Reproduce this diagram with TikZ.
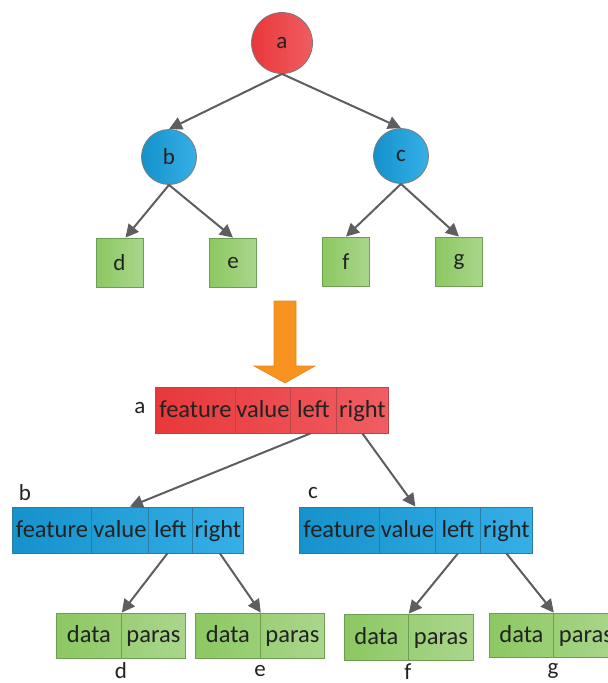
\documentclass[tikz,border=0pt]{standalone}
\usepackage{fontspec}
\setmainfont{Carlito}
\usetikzlibrary{arrows.meta,calc}
\definecolor{redL}{HTML}{E8383A}
\definecolor{redR}{HTML}{F05D62}
\definecolor{redB}{HTML}{B9474A}
\definecolor{bluL}{HTML}{1592CC}
\definecolor{bluR}{HTML}{36AFE6}
\definecolor{bluB}{HTML}{2A7DA6}
\definecolor{grnL}{HTML}{8CC862}
\definecolor{grnR}{HTML}{AAD68C}
\definecolor{grnB}{HTML}{6E9E52}
\definecolor{arrg}{HTML}{5E5E62}
\definecolor{txt}{HTML}{222222}
\definecolor{orgF}{HTML}{F7931E}
\definecolor{orgB}{HTML}{E0881C}
\definecolor{circB}{HTML}{7A7A7A}
\begin{document}
\begin{tikzpicture}[x=1pt,y=-1pt,
  conn/.style={draw=arrg, line width=2pt, -{Triangle[length=13pt,width=13pt]}},
  recfont/.style={font=\fontsize{24.5}{28}\selectfont},
  cell/.style={draw=#1, line width=0.8pt, anchor=west, inner sep=0pt, text=txt, recfont, text height=17pt, text depth=3pt},
  bg/.style={anchor=west, inner sep=0pt, minimum height=#1},
  circ/.style={circle, draw=circB, line width=0.8pt, inner sep=0pt, text=txt, font=\fontsize{23}{27}\selectfont},
  sq/.style={rectangle, draw=grnB, line width=0.8pt, left color=grnL, right color=grnR, inner sep=0pt, minimum width=47pt, minimum height=49pt, text=txt, font=\fontsize{23}{27}\selectfont},
  lbl/.style={text=txt, inner sep=0pt, font=\fontsize{23}{27}\selectfont}
]
\useasboundingbox (0,0) rectangle (608,683);

% ---- top tree ----
\node[circ, minimum size=61pt, left color=redL, right color=redR] (a) at (282,43) {a};
\node[circ, minimum size=55pt, left color=bluL, right color=bluR] (b) at (169,157) {b};
\node[circ, minimum size=55pt, left color=bluL, right color=bluR] (c) at (401,156) {c};
\node[sq] (d) at (119.5,262.5) {d};
\node[sq] (e) at (233,262.5) {e};
\node[sq] (f) at (346,261.5) {f};
\node[sq] (g) at (459,261.5) {g};
\draw[conn] (a.south) -- (b.north);
\draw[conn] (a.south) -- (c.north);
\draw[conn] (b.south) -- ($(d.north)+(6,0)$);
\draw[conn] (b.south) -- (e.north);
\draw[conn] (c.south) -- (f.north);
\draw[conn] (c.south) -- (g.north);

% ---- orange arrow ----
\draw[fill=orgF, draw=orgB, line width=0.6pt]
  (274,301) -- (296,301) -- (296,366) -- (315,366) -- (285,383) -- (254,366) -- (274,366) -- cycle;

% ---- record a ----
\node[bg=46pt, minimum width=233pt, left color=redL, right color=redR] (A) at (155,410) {};
\node[cell=redB, minimum width=80pt, minimum height=46pt] (af) at (155,410) {feature};
\node[cell=redB, minimum width=55pt, minimum height=46pt] (av) at (235,410) {value};
\node[cell=redB, minimum width=46pt, minimum height=46pt] (al) at (290,410) {left};
\node[cell=redB, minimum width=52pt, minimum height=46pt] (ar) at (336,410) {right};
\node[lbl] (la) at (140,408) {a};

% ---- record b ----
\node[bg=46pt, minimum width=231pt, left color=bluL, right color=bluR] (B) at (12,530) {};
\node[cell=bluB, minimum width=79pt, minimum height=46pt] (bf) at (12,530) {feature};
\node[cell=bluB, minimum width=57pt, minimum height=46pt] (bv) at (91,530) {value};
\node[cell=bluB, minimum width=44pt, minimum height=46pt] (bl) at (148,530) {left};
\node[cell=bluB, minimum width=51pt, minimum height=46pt] (br) at (192,530) {right};
\node[lbl] (lb) at (25,493) {b};

% ---- record c ----
\node[bg=46pt, minimum width=233pt, left color=bluL, right color=bluR] (C) at (299,530) {};
\node[cell=bluB, minimum width=80pt, minimum height=46pt] (cf) at (299,530) {feature};
\node[cell=bluB, minimum width=56pt, minimum height=46pt] (cv) at (379,530) {value};
\node[cell=bluB, minimum width=45pt, minimum height=46pt] (cl) at (435,530) {left};
\node[cell=bluB, minimum width=52pt, minimum height=46pt] (cr) at (480,530) {right};
\node[lbl] (lc) at (313,493) {c};

% ---- leaf records ----
\node[bg=45pt, minimum width=129pt, left color=grnL, right color=grnR] (D) at (56,635.5) {};
\node[cell=grnB, minimum width=65pt, minimum height=45pt] (dd) at (56,635.5) {data};
\node[cell=grnB, minimum width=64pt, minimum height=45pt] (dp) at (121,635.5) {paras};
\node[lbl] (ld) at (121,671) {d};

\node[bg=45pt, minimum width=129pt, left color=grnL, right color=grnR] (E) at (195,635.5) {};
\node[cell=grnB, minimum width=65pt, minimum height=45pt] (ed) at (195,635.5) {data};
\node[cell=grnB, minimum width=64pt, minimum height=45pt] (ep) at (260,635.5) {paras};
\node[lbl] (le) at (260,671) {e};

\node[bg=46pt, minimum width=129pt, left color=grnL, right color=grnR] (F) at (344,637) {};
\node[cell=grnB, minimum width=64pt, minimum height=46pt] (fd) at (344,637) {data};
\node[cell=grnB, minimum width=65pt, minimum height=46pt] (fp) at (408,637) {paras};
\node[lbl] (lf) at (408,672) {f};

\node[bg=44pt, minimum width=129pt, left color=grnL, right color=grnR] (G) at (489,635) {};
\node[cell=grnB, minimum width=64pt, minimum height=44pt] (gd) at (489,635) {data};
\node[cell=grnB, minimum width=65pt, minimum height=44pt] (gp) at (553,635) {paras};
\node[lbl] (lg) at (553,671) {g};

% ---- record connectors ----
\draw[conn] ($(al.south)+(-3,0)$) -- ($(bv.north)+(10,0)$);
\draw[conn] (ar.south) -- ($(cv.north)+(8,0)$);
\draw[conn] ($(bl.south)+(-3,0)$) -- (dd.north east);
\draw[conn] ($(br.south)+(2,0)$) -- (ed.north east);
\draw[conn] (cl.south) -- (fd.north east);
\draw[conn] (cr.south) -- (gd.north east);
\end{tikzpicture}
\end{document}
